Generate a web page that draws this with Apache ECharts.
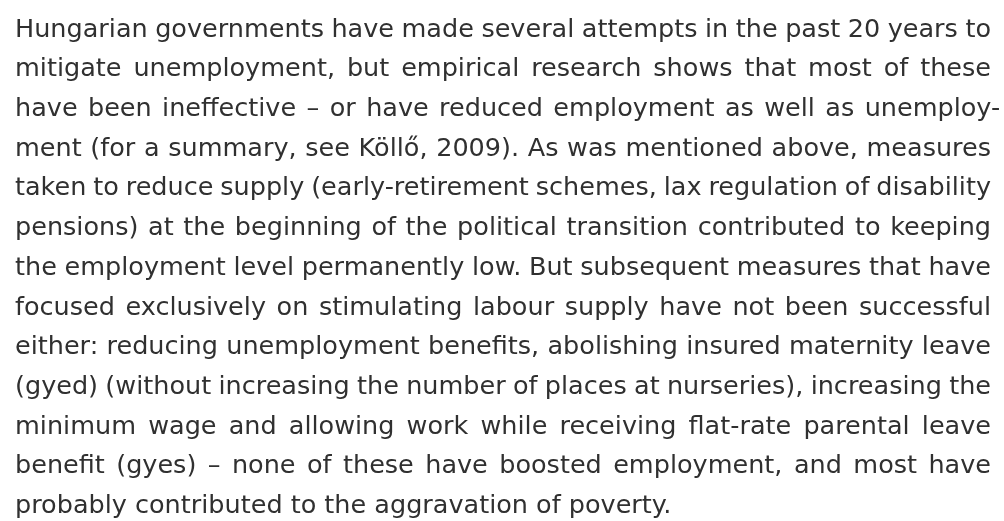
<!DOCTYPE html>
<html>
<head>
<meta charset="utf-8">
<script src="https://cdn.jsdelivr.net/npm/echarts@6/dist/echarts.min.js"></script>
<style>
html, body { margin: 0; padding: 0; background: #fff; }
#main { width: 1004px; height: 521px; }
</style>
</head>
<body>
<div id="main"></div>
<script>
// paragraph lines, as broken in the original
var lines = [
    'Hungarian governments have made several attempts in the past 20 years to',
    'mitigate unemployment, but empirical research shows that most of these',
    'have been ineffective \u2013 or have reduced employment as well as unemploy-',
    'ment (for a summary, see K\u00f6ll\u0151, 2009). As was mentioned above, measures',
    'taken to reduce supply (early-retirement schemes, lax regulation of disability',
    'pensions) at the beginning of the political transition contributed to keeping',
    'the employment level permanently low. But subsequent measures that have',
    'focused exclusively on stimulating labour supply have not been successful',
    'either: reducing unemployment benefits, abolishing insured maternity leave',
    '(gyed) (without increasing the number of places at nurseries), increasing the',
    'minimum wage and allowing work while receiving flat-rate parental leave',
    'benefit (gyes) \u2013 none of these have boosted employment, and most have',
    'probably contributed to the aggravation of poverty.'
];

var fontSize = 25.5;
var fontFamily = '"DejaVu Sans", sans-serif';
var textColor = '#303030';
var padLeft = 15, padRight = 991;   // justified block edges
var firstMid = 30, lineH = 39.7;    // middle of first line, line step

// measure words so each line can be justified
var ctx = document.createElement('canvas').getContext('2d');
ctx.font = fontSize + 'px ' + fontFamily;
var spaceW = ctx.measureText(' ').width;

var elements = [];
for (var i = 0; i < lines.length; i++) {
    var words = lines[i].split(' ');
    var widths = words.map(function (w) { return ctx.measureText(w).width; });
    var sum = widths.reduce(function (a, b) { return a + b; }, 0);
    var isLast = i === lines.length - 1;
    var edge = padRight;
    // hyphen at line end hangs into the margin
    if (/-$/.test(lines[i])) edge += ctx.measureText('-').width;
    var gap = isLast ? spaceW : (edge - padLeft - sum) / (words.length - 1);
    var x = padLeft;
    for (var j = 0; j < words.length; j++) {
        elements.push({
            type: 'text',
            x: x,
            y: firstMid + i * lineH,
            silent: true,
            style: {
                text: words[j],
                fill: textColor,
                font: fontSize + 'px ' + fontFamily,
                textAlign: 'left',
                textVerticalAlign: 'middle'
            }
        });
        x += widths[j] + gap;
    }
}

var myChart = echarts.init(document.getElementById('main'));
myChart.setOption({
    backgroundColor: '#fff',
    animation: false,
    graphic: { elements: elements }
});
</script>
</body>
</html>
